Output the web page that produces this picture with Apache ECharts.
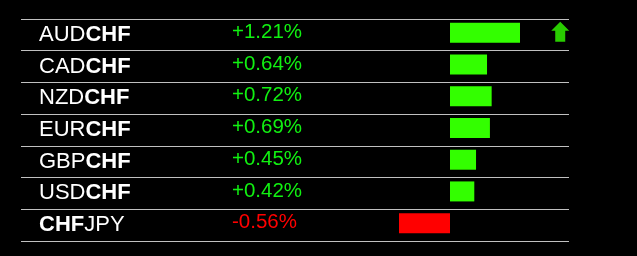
<!DOCTYPE html>
<html>
<head>
<meta charset="utf-8">
<script src="https://cdn.jsdelivr.net/npm/echarts@6/dist/echarts.min.js"></script>
<style>
html,body{margin:0;padding:0;background:#000;}
#c{width:637px;height:256px;}
</style>
</head>
<body>
<div id="c"></div>
<script>
// ---- data ----
var pairs = ['AUDCHF', 'CADCHF', 'NZDCHF', 'EURCHF', 'GBPCHF', 'USDCHF', 'CHFJPY'];
var changes = [1.21, 0.64, 0.72, 0.69, 0.45, 0.42, -0.56];
var trend = ['up', null, null, null, null, null, null];
var baseCurrency = 'CHF';

// ---- layout ----
var FONT = 'Liberation Sans, Arial, sans-serif';
var GREEN_BAR = '#33ff00';
var GREEN_TXT = '#11f011';
var RED = '#ff0000';
var ARROW_COL = 98.4;

var posMax = Math.max.apply(null, changes);
var negMin = Math.min.apply(null, changes);

function pairLabel(p) {
  var i = p.indexOf(baseCurrency);
  var pre = p.slice(0, i), post = p.slice(i + baseCurrency.length);
  var s = '';
  if (pre) s += '{r|' + pre + '}';
  s += '{b|' + baseCurrency + '}';
  if (post) s += '{r|' + post + '}';
  return s;
}
function pctLabel(v) {
  return v >= 0 ? '{p|+' + v.toFixed(2) + '%}' : '{n|' + v.toFixed(2) + '%}';
}

var chart = echarts.init(document.getElementById('c'), null, {renderer: 'canvas'});
var hiddenCat = {type: 'category', inverse: true, data: pairs, show: false};
chart.setOption({
  backgroundColor: '#000',
  animation: false,
  grid: [
    {left: 21, right: 68, top: 19, height: 222},
    {left: 450, width: 70, top: 17, height: 222},
    {left: 399, width: 51, top: 17, height: 222}
  ],
  xAxis: [
    {gridIndex: 0, type: 'value', min: 0, max: 100, show: false},
    {gridIndex: 1, type: 'value', min: 0, max: posMax, show: false},
    {gridIndex: 2, type: 'value', min: negMin, max: 0, show: false}
  ],
  yAxis: [
    {
      gridIndex: 0, type: 'category', inverse: true, data: pairs,
      axisLine: {show: false}, axisTick: {show: false},
      splitLine: {show: true, lineStyle: {color: '#c0c0c0', width: 1}},
      axisLabel: {
        inside: true, margin: 18,
        formatter: function (v) { return pairLabel(v); },
        rich: {
          r: {color: '#fff', fontFamily: FONT, fontSize: 22, fontWeight: 'normal'},
          b: {color: '#fff', fontFamily: FONT, fontSize: 22, fontWeight: 'bold'}
        }
      }
    },
    {
      gridIndex: 0, type: 'category', inverse: true, data: pairs, position: 'left',
      axisLine: {show: false}, axisTick: {show: false}, splitLine: {show: false},
      axisLabel: {
        inside: true, margin: 211,
        formatter: function (v, i) { return pctLabel(changes[i]); },
        rich: {
          p: {color: GREEN_TXT, fontFamily: FONT, fontSize: 20.5, padding: [0, 0, 5, 0]},
          n: {color: RED, fontFamily: FONT, fontSize: 20.5, padding: [0, 0, 5, 0]}
        }
      }
    },
    Object.assign({gridIndex: 1}, hiddenCat),
    Object.assign({gridIndex: 2}, hiddenCat)
  ],
  series: [
    {
      type: 'bar', xAxisIndex: 1, yAxisIndex: 2, barWidth: 20,
      itemStyle: {color: GREEN_BAR},
      data: changes.map(function (v) { return v > 0 ? v : '-'; })
    },
    {
      type: 'bar', xAxisIndex: 2, yAxisIndex: 3, barWidth: 20,
      itemStyle: {color: RED},
      data: changes.map(function (v) { return v < 0 ? v : '-'; })
    },
    {
      type: 'scatter', xAxisIndex: 0, yAxisIndex: 0,
      symbol: 'path://M9 0L18 9L14 9L14 20L4 20L4 9L0 9Z',
      symbolSize: [18, 20], symbolOffset: [0, -3],
      itemStyle: {color: GREEN_BAR},
      data: trend.map(function (t, i) { return t === 'up' ? [ARROW_COL, pairs[i]] : null; })
        .filter(function (d) { return d; })
    }
  ]
});
</script>
</body>
</html>
